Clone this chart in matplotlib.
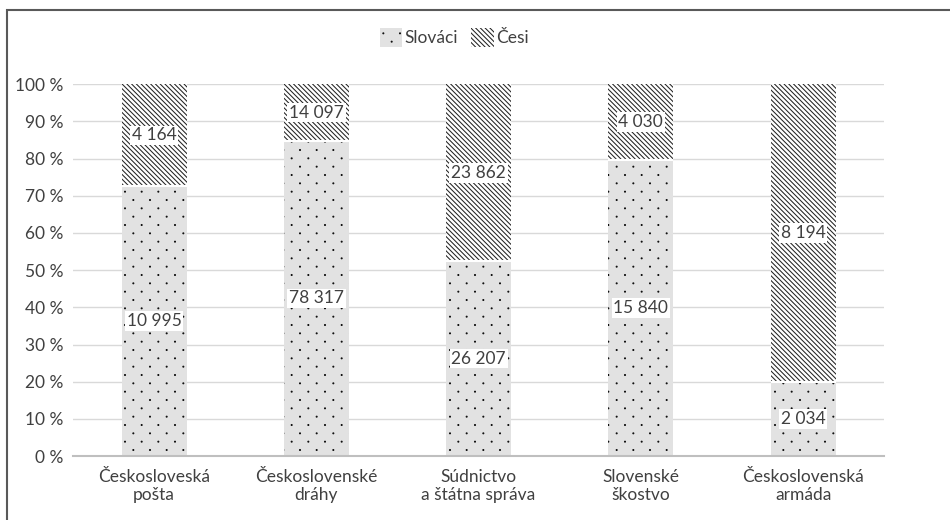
import numpy as np
import matplotlib.pyplot as plt
import matplotlib.hatch as mhatch
from matplotlib.path import Path
from matplotlib.patches import Rectangle, Patch

plt.rcParams['font.family'] = ['Lato', 'DejaVu Sans']
plt.rcParams['hatch.linewidth'] = 0.75

categories = ["Českosloveská\npošta", "Československé\ndráhy",
              "Súdnictvo\na štátna správa", "Slovenské\nškostvo",
              "Československá\narmáda"]
slovaci = [10995, 78317, 26207, 15840, 2034]
cesi = [4164, 14097, 23862, 4030, 8194]


# sparse staggered dot texture (rows twice as close as columns)
class Dots(mhatch.HatchPatternBase):
    def __init__(self, hatch, density):
        n = hatch.count('.')
        self.rows = 2 * density * n
        self.cols = density * n
        self.shape = Path.unit_circle()
        nv = len(self.shape.vertices)
        self.num_vertices = (self.rows + 1) * (self.cols + 1) * nv if n else 0

    def set_vertices_and_codes(self, vertices, codes):
        sv = self.shape.vertices * 0.005
        nv = len(sv)
        k = 0
        for i in range(self.rows + 1):
            off = 0.5 / self.cols if i % 2 else 0.0
            for j in range(self.cols + 1):
                vertices[k * nv:(k + 1) * nv] = sv + (j / self.cols + off,
                                                      i / self.rows)
                codes[k * nv:(k + 1) * nv] = self.shape.codes
                k += 1


mhatch._hatch_types = [Dots if t is mhatch.SmallFilledCircles else t
                       for t in mhatch._hatch_types]

s = np.array(slovaci, dtype=float)
c = np.array(cesi, dtype=float)
tot = s + c
s_pct = s / tot * 100
c_pct = c / tot * 100

txt = '#404040'
fs = 12.5
diag = '\\' * 7
fig = plt.figure(figsize=(9.5, 5.2), dpi=100)
ax = fig.add_axes([0.0768, 0.123, 0.854, 0.715])

x = np.arange(len(categories))
w = 0.4
ax.bar(x, s_pct, w, color='#e2e2e2', edgecolor='#111111', linewidth=0,
       hatch='.', zorder=2, label='Slováci')
ax.bar(x, c_pct, w, bottom=s_pct, color='white', edgecolor='#222222',
       linewidth=0, hatch=diag, zorder=2, label='Česi')
ax.hlines(s_pct, x - w / 2, x + w / 2, color='white', lw=1.5, zorder=3)

box = dict(boxstyle='square,pad=0.1', fc='white', ec='none')
for xi, sp, cp, sv, cv in zip(x, s_pct, c_pct, slovaci, cesi):
    ax.text(xi, sp / 2, f"{sv:,}".replace(',', ' '), ha='center',
            va='center', fontsize=fs, color=txt, bbox=box, zorder=4)
    ax.text(xi, sp + cp / 2, f"{cv:,}".replace(',', ' '), ha='center',
            va='center', fontsize=fs, color=txt, bbox=box, zorder=4)

ax.set_xlim(-0.5, len(categories) - 0.5)
ax.set_ylim(0, 100)
ax.set_yticks(np.arange(0, 101, 10))
ax.set_yticklabels([f"{v} %" for v in range(0, 101, 10)])
ax.set_xticks(x)
ax.set_xticklabels(categories)
ax.tick_params(length=0, labelsize=fs, labelcolor=txt)
ax.tick_params(axis='y', pad=7)
ax.tick_params(axis='x', pad=9)
ax.grid(axis='y', color='#d9d9d9', lw=1, zorder=0)
for sp_name in ['left', 'right', 'top']:
    ax.spines[sp_name].set_visible(False)
ax.spines['bottom'].set_color('#bfbfbf')
ax.spines['bottom'].set_linewidth(1.5)

handles = [Patch(fc='#e2e2e2', ec='#111111', lw=0, hatch='.'),
           Patch(fc='white', ec='#222222', lw=0, hatch=diag)]
fig.legend(handles, ['Slováci', 'Česi'], loc='center', ncol=2,
           bbox_to_anchor=(0.478, 0.928), frameon=False, fontsize=fs,
           labelcolor=txt, handlelength=1.3, handleheight=1.3,
           handletextpad=0.1, columnspacing=0.8)

fig.patches.append(Rectangle((7 / 950, -0.1), 1.2, (520 - 10) / 520 + 0.1,
                             transform=fig.transFigure, fill=False,
                             ec='#595959', lw=1.5))

fig.savefig('out.png')
